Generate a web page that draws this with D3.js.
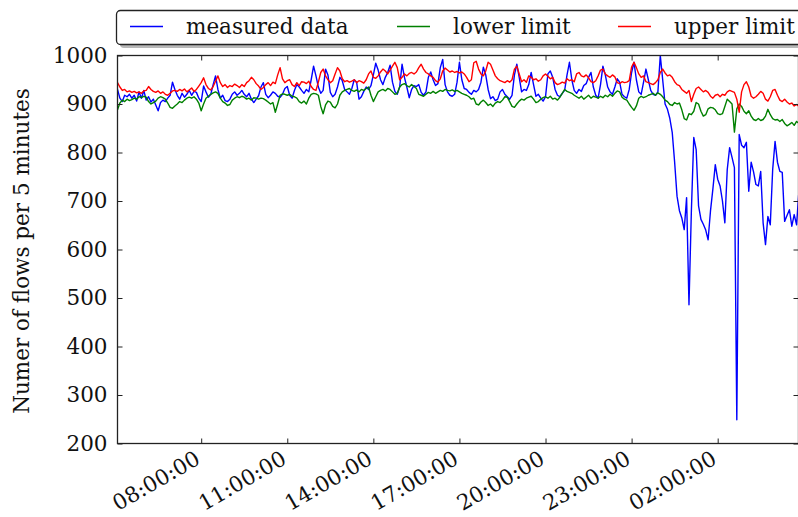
<!DOCTYPE html>
<html>
<head>
<meta charset="utf-8">
<script src="https://cdn.jsdelivr.net/npm/d3@7"></script>
<style>
  body { margin: 0; background: #fff; }
  text { font-family: "DejaVu Serif", serif; fill: #111; }
</style>
</head>
<body>
<svg id="chart" width="798" height="517"></svg>
<script>
// first sample, then one value every 5 minutes
var startTime = "2016-01-01T05:05:00Z";
var stepMinutes = 5;

var measured = [
  930, 912, 905, 918, 915, 920, 912, 918, 906, 925, 912, 928,
  908, 915, 904, 910, 898, 886, 903, 908, 905, 912, 918, 945,
  930, 918, 910, 922, 914, 920, 928, 918, 926, 924, 912, 905,
  937, 925, 914, 920, 940, 958, 930, 912, 918, 907, 905, 910,
  920, 925, 918, 922, 928, 920, 915, 922, 910, 903, 910, 917,
  935, 944, 920, 913, 918, 925, 922, 916, 914, 920, 932, 936,
  918, 912, 928, 940, 935, 928, 922, 930, 925, 950, 978, 958,
  935, 922, 928, 972, 960, 924, 915, 920, 935, 955, 948, 930,
  925, 920, 932, 950, 945, 910, 915, 926, 935, 930, 938, 960,
  984, 970, 950, 940, 955, 965, 980, 945, 926, 920, 935, 982,
  955, 935, 913, 930, 938, 936, 940, 924, 918, 925, 955, 966,
  950, 938, 942, 975, 992, 940, 925, 918, 916, 920, 945, 986,
  950, 932, 930, 924, 920, 928, 925, 930, 945, 976, 960, 930,
  911, 915, 907, 910, 925, 930, 920, 915, 910, 918, 960, 982,
  955, 925, 930, 928, 940, 965, 940, 916, 920, 912, 906, 915,
  962, 968, 955, 930, 918, 915, 922, 928, 960, 986, 950, 928,
  922, 930, 926, 938, 942, 955, 965, 935, 918, 912, 940, 978,
  960, 935, 925, 920, 935, 952, 945, 920, 915, 912, 930, 965,
  986, 950, 925, 920, 945, 972, 950, 928, 920, 918, 925, 1000,
  950, 900, 889, 870, 841, 780, 710, 680, 665, 641, 707, 486,
  680, 831, 806, 690, 662, 652, 640, 620, 680, 725, 775, 745,
  731, 700, 655, 765, 810, 790, 769, 249, 837, 815, 810, 821,
  720, 780, 760, 734, 731, 761, 655, 610, 668, 651, 765, 823,
  780, 761, 759, 658, 670, 682, 648, 672, 651, 723
];

var lowerLimit = [
  888, 902, 908, 905, 910, 907, 909, 912, 910, 915, 913, 916,
  914, 905, 900, 903, 906, 912, 915, 913, 910, 902, 893, 891,
  896, 900, 905, 903, 908, 912, 914, 912, 915, 910, 902, 886,
  900, 912, 916, 920, 923, 925, 922, 912, 905, 902, 897, 899,
  908, 912, 915, 913, 916, 914, 910, 912, 908, 913, 912, 910,
  912, 911, 908, 904, 900, 903, 883, 900, 918, 921, 920, 918,
  920, 916, 915, 912, 905, 902, 906, 900, 912, 920, 922, 921,
  918, 895, 880, 898, 906, 904, 895, 892, 900, 918, 925, 928,
  930, 932, 928, 926, 929, 925, 930, 928, 932, 935, 918, 905,
  915, 925, 928, 930, 927, 932, 930, 925, 920, 922, 935, 940,
  942, 938, 935, 940, 936, 932, 920, 918, 916, 920, 924, 922,
  926, 922, 925, 928, 926, 930, 928, 927, 929, 926, 928, 925,
  922, 920, 918, 915, 910, 912, 900, 898, 904, 908, 903, 897,
  900, 895, 902, 905, 903, 908, 915, 914, 905, 895, 893, 900,
  906, 910, 908, 912, 914, 916, 910, 903, 905, 910, 913, 915,
  912, 916, 910, 912, 908, 914, 922, 930, 926, 924, 922, 918,
  915, 912, 916, 910, 914, 918, 912, 916, 914, 912, 916, 913,
  918, 915, 920, 916, 922, 927, 925, 914, 910, 908, 900, 893,
  887, 896, 912, 916, 913, 915, 918, 920, 922, 918, 923, 920,
  915, 908, 905, 899, 897, 903, 900, 902, 888, 870, 867, 880,
  878, 885, 903, 900, 885, 875, 878, 890, 893, 892, 888, 880,
  878, 880, 895, 910, 905, 900, 842, 890, 900, 895, 885, 880,
  886, 875, 868, 866, 870, 866, 868, 875, 889, 878, 870, 867,
  868, 864, 868, 860, 855, 858, 862, 856, 864, 860
];

var upperLimit = [
  944, 935, 928, 930, 925, 927, 924, 926, 923, 925, 922, 927,
  928, 936, 930, 926, 924, 927, 922, 925, 920, 918, 922, 927,
  928, 926, 930, 927, 931, 925, 929, 933, 926, 930, 937, 944,
  954, 940, 932, 929, 936, 947, 958, 944, 936, 940, 934, 938,
  936, 941, 938, 934, 940, 936, 944, 948, 955, 950, 942, 937,
  930, 934, 940, 944, 938, 945, 942, 960, 975, 952, 944, 948,
  950, 940, 936, 944, 938, 946, 945, 942, 947, 936, 930, 928,
  945, 965, 972, 958, 950, 944, 948, 962, 975, 968, 952, 946,
  948, 945, 947, 950, 944, 948, 946, 943, 950, 962, 968, 955,
  953, 958, 966, 972, 968, 962, 970, 978, 986, 975, 950, 955,
  962, 958, 963, 965, 962, 966, 975, 982, 972, 965, 962, 958,
  955, 948, 945, 952, 968, 974, 970, 966, 968, 965, 967, 964,
  966, 962, 955, 946, 950, 985, 988, 972, 962, 958, 968, 986,
  982, 970, 958, 952, 948, 946, 944, 948, 945, 950, 972, 978,
  962, 946, 950, 945, 958, 955, 950, 952, 947, 950, 958, 962,
  957, 952, 955, 944, 940, 942, 945, 943, 952, 948, 950, 946,
  962, 965, 958, 956, 960, 954, 946, 944, 948, 958, 970, 972,
  962, 958, 955, 960, 956, 944, 942, 946, 944, 945, 948, 976,
  986, 975, 962, 955, 958, 946, 944, 942, 940, 944, 950, 965,
  972, 964, 958, 960, 955, 946, 940, 938, 930, 926, 922, 928,
  905, 920, 932, 935, 930, 925, 928, 924, 916, 912, 918, 920,
  915, 920, 918, 925, 928, 926, 924, 910, 883, 925, 940, 946,
  935, 916, 912, 915, 920, 926, 922, 910, 906, 915, 928, 930,
  918, 908, 905, 910, 904, 900, 902, 896, 899, 895
];

var seriesNames = ["measured data", "lower limit", "upper limit"];
var seriesColors = ["#0000ff", "#008000", "#ff0000"];

var yTicks = [200, 300, 400, 500, 600, 700, 800, 900, 1000];
var xTickTimes = ["2016-01-01T08:00:00Z", "2016-01-01T11:00:00Z", "2016-01-01T14:00:00Z",
  "2016-01-01T17:00:00Z", "2016-01-01T20:00:00Z", "2016-01-01T23:00:00Z", "2016-01-02T02:00:00Z"];
var xEnd = "2016-01-02T04:49:00Z";
var yLabel = "Numer of flows per 5 minutes";

var fontSize = "21.5px";
var svg = d3.select("#chart");
var margin = { left: 117.5, top: 55.5, right: 798.5, bottom: 443.5 };

var t0 = new Date(startTime);
function timeAt(i) { return new Date(t0.getTime() + i * stepMinutes * 60000); }

var x = d3.scaleUtc()
  .domain([t0, new Date(xEnd)])
  .range([margin.left, margin.right]);
var y = d3.scaleLinear()
  .domain([200, 1000])
  .range([margin.bottom, margin.top]);

svg.append("defs").append("clipPath").attr("id", "plot")
  .append("rect")
  .attr("x", margin.left).attr("y", margin.top)
  .attr("width", margin.right - margin.left)
  .attr("height", margin.bottom - margin.top);

var line = d3.line()
  .x(function(d, i) { return x(timeAt(i)); })
  .y(function(d) { return y(d); });

var allSeries = [measured, lowerLimit, upperLimit];
var g = svg.append("g").attr("clip-path", "url(#plot)");
allSeries.forEach(function(s, k) {
  g.append("path")
    .datum(s)
    .attr("fill", "none")
    .attr("stroke", seriesColors[k])
    .attr("stroke-width", 1.4)
    .attr("stroke-linejoin", "round")
    .attr("d", line);
});

// axes, ticks pointing inward
var xTickDates = xTickTimes.map(function(s) { return new Date(s); });
var fmt = d3.utcFormat("%H:%M:%S");

var xAxis = svg.append("g")
  .attr("transform", "translate(0," + margin.bottom + ")")
  .call(d3.axisBottom(x).tickValues(xTickDates).tickSizeInner(-5).tickSizeOuter(0).tickFormat(""));
var xAxisTop = svg.append("g")
  .attr("transform", "translate(0," + margin.top + ")")
  .call(d3.axisTop(x).tickValues(xTickDates).tickSizeInner(-5).tickSizeOuter(0).tickFormat(""));
var yAxis = svg.append("g")
  .attr("transform", "translate(" + margin.left + ",0)")
  .call(d3.axisLeft(y).tickValues(yTicks).tickSizeInner(-5).tickSizeOuter(0)
    .tickPadding(10).tickFormat(d3.format("d")));
var yAxisRight = svg.append("g")
  .attr("transform", "translate(" + margin.right + ",0)")
  .call(d3.axisRight(y).tickValues(yTicks).tickSizeInner(-5).tickSizeOuter(0).tickFormat(""));

[xAxis, xAxisTop, yAxis, yAxisRight].forEach(function(a) {
  a.select(".domain").remove();
  a.selectAll(".tick line").attr("stroke", "#222").attr("stroke-width", 1);
});
yAxis.selectAll(".tick text")
  .style("font-family", "DejaVu Serif")
  .style("font-size", fontSize)
  .attr("fill", "#111");

svg.append("rect")
  .attr("x", margin.left).attr("y", margin.top)
  .attr("width", margin.right - margin.left)
  .attr("height", margin.bottom - margin.top)
  .attr("fill", "none")
  .attr("stroke", "#222")
  .attr("stroke-width", 1.3);

// rotated time labels
svg.append("g").selectAll("text")
  .data(xTickDates)
  .enter().append("text")
  .attr("transform", function(d) { return "translate(" + (x(d) + 0.5) + ",463) rotate(-30)"; })
  .attr("text-anchor", "end")
  .style("font-size", fontSize)
  .text(function(d) { return fmt(d); });

svg.append("text")
  .attr("transform", "translate(29,251) rotate(-90)")
  .attr("text-anchor", "middle")
  .style("font-size", fontSize)
  .text(yLabel);

// legend box with shadow
var legend = svg.append("g");
legend.append("rect")
  .attr("x", 120).attr("y", 14).attr("width", 720).attr("height", 34)
  .attr("rx", 4).attr("fill", "#888").attr("opacity", 0.6);
legend.append("rect")
  .attr("x", 116.5).attr("y", 10.5).attr("width", 720).attr("height", 34)
  .attr("rx", 4).attr("fill", "#fff").attr("stroke", "#222").attr("stroke-width", 1.3);

var legendX = [130, 397, 618];
seriesNames.forEach(function(name, k) {
  legend.append("line")
    .attr("x1", legendX[k]).attr("x2", legendX[k] + 33)
    .attr("y1", 26.5).attr("y2", 26.5)
    .attr("stroke", seriesColors[k]).attr("stroke-width", 1.4);
  legend.append("text")
    .attr("x", legendX[k] + 56).attr("y", 33.5)
    .style("font-size", fontSize)
    .text(name);
});
</script>
</body>
</html>
